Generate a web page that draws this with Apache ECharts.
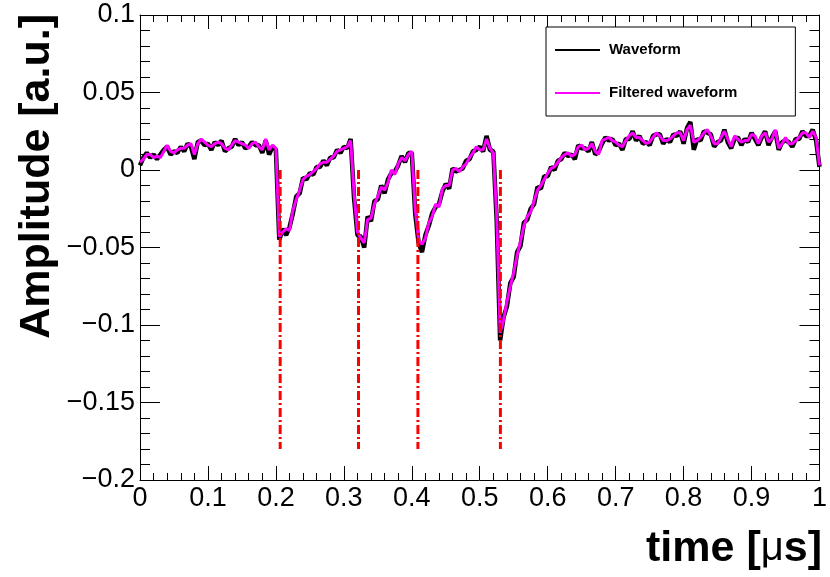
<!DOCTYPE html>
<html>
<head>
<meta charset="utf-8">
<script src="https://cdn.jsdelivr.net/npm/echarts@6/dist/echarts.min.js"></script>
<style>
html,body{margin:0;padding:0;background:#fff;}
#chart{width:830px;height:577px;}
</style>
</head>
<body>
<div id="chart"></div>
<script>
// sampling step of both waveforms (µs)
const dt = 0.005;

// Filtered waveform (magenta), t = 0 ... 1 µs in steps of dt
const filtered = [
  0.005, 0.007, 0.010, 0.010, 0.008, 0.009, 0.008, 0.012, 0.016, 0.012,
  0.011, 0.013, 0.014, 0.014, 0.016, 0.017, 0.010, 0.017, 0.020, 0.018,
  0.016, 0.015, 0.017, 0.018, 0.017, 0.014, 0.013, 0.016, 0.019, 0.018,
  0.017, 0.016, 0.014, 0.017, 0.018, 0.015, 0.013, 0.020, 0.013, 0.016,
  0.014,
  -0.043, -0.040, -0.038, -0.039, -0.026, -0.019, -0.013, -0.006, -0.004, -0.003,
  -0.001, 0.001, 0.004, 0.005, 0.005, 0.007, 0.009, 0.012, 0.013, 0.014,
  0.015, 0.019,
  -0.015, -0.040, -0.044, -0.047, -0.032, -0.031, -0.022, -0.017, -0.011, -0.013,
  -0.008, 0.000, -0.003, 0.004, 0.008, 0.006, 0.010, 0.012,
  -0.025, -0.045, -0.048, -0.044, -0.034, -0.030, -0.022, -0.024, -0.012, -0.010,
  -0.010, 0.000, 0.001, -0.001, 0.002, 0.004, 0.008, 0.011, 0.015, 0.013,
  0.013, 0.020, 0.014, 0.011,
  -0.030, -0.105, -0.097, -0.085, -0.075, -0.066, -0.055, -0.046, -0.036, -0.030,
  -0.027, -0.020, -0.013, -0.010, -0.006, -0.002, 0.001, 0.002, 0.005, 0.008,
  0.010, 0.011, 0.009, 0.010, 0.015, 0.016, 0.013, 0.014, 0.017, 0.012,
  0.010, 0.019, 0.020, 0.021, 0.019, 0.018, 0.016, 0.015, 0.019, 0.022,
  0.024, 0.021, 0.021, 0.019, 0.017, 0.018, 0.021, 0.024, 0.022, 0.019,
  0.019, 0.020, 0.022, 0.024, 0.024, 0.019, 0.026, 0.029, 0.018, 0.019,
  0.021, 0.024, 0.026, 0.022, 0.017, 0.017, 0.021, 0.025, 0.020, 0.015,
  0.022, 0.020, 0.018, 0.019, 0.019, 0.023, 0.022, 0.017, 0.022, 0.024,
  0.018, 0.020, 0.026, 0.014, 0.017, 0.021, 0.017, 0.017, 0.019, 0.021,
  0.024, 0.024, 0.021, 0.025, 0.021, 0.003
];

// Raw waveform (black), same time grid
const waveform = [
  0.003, 0.008, 0.011, 0.008, 0.010, 0.007, 0.010, 0.013, 0.015, 0.010,
  0.012, 0.011, 0.015, 0.012, 0.017, 0.015, 0.007, 0.018, 0.019, 0.016,
  0.017, 0.013, 0.018, 0.016, 0.019, 0.012, 0.014, 0.015, 0.020, 0.016,
  0.018, 0.014, 0.015, 0.018, 0.016, 0.016, 0.011, 0.019, 0.010, 0.015,
  0.013,
  -0.045, -0.038, -0.042, -0.037, -0.028, -0.017, -0.015, -0.005, -0.006, -0.002,
  -0.003, 0.002, 0.002, 0.006, 0.003, 0.008, 0.008, 0.013, 0.011, 0.015,
  0.014, 0.020,
  -0.018, -0.042, -0.043, -0.050, -0.030, -0.033, -0.020, -0.019, -0.010, -0.015,
  -0.006, -0.002, -0.001, 0.003, 0.009, 0.005, 0.011, 0.011,
  -0.028, -0.047, -0.053, -0.042, -0.036, -0.028, -0.024, -0.022, -0.014, -0.009,
  -0.012, 0.001, -0.001, 0.000, 0.001, 0.006, 0.007, 0.012, 0.013, 0.015,
  0.012, 0.022, 0.013, 0.012,
  -0.033, -0.110, -0.095, -0.088, -0.073, -0.069, -0.053, -0.049, -0.034, -0.032,
  -0.025, -0.022, -0.011, -0.012, -0.004, -0.004, 0.002, 0.000, 0.006, 0.007,
  0.011, 0.009, 0.010, 0.007, 0.016, 0.014, 0.014, 0.012, 0.018, 0.010,
  0.012, 0.017, 0.021, 0.019, 0.020, 0.016, 0.017, 0.013, 0.020, 0.020,
  0.025, 0.019, 0.022, 0.017, 0.018, 0.016, 0.022, 0.023, 0.023, 0.017,
  0.020, 0.018, 0.023, 0.022, 0.025, 0.017, 0.027, 0.031, 0.013, 0.020,
  0.019, 0.025, 0.024, 0.023, 0.015, 0.018, 0.019, 0.026, 0.018, 0.014,
  0.020, 0.021, 0.016, 0.020, 0.018, 0.024, 0.020, 0.016, 0.021, 0.025,
  0.016, 0.021, 0.025, 0.013, 0.018, 0.019, 0.018, 0.015, 0.020, 0.020,
  0.025, 0.022, 0.022, 0.026, 0.019, 0.002
];

// Detected pulse times (red dash-dot markers)
const markerTimes = [0.2063, 0.3216, 0.409, 0.5304];
const markerTop = 0;
const markerBottom = -0.18;

const seriesNames = ['Waveform', 'Filtered waveform'];
const xTitle = 'time [';
const xTitleUnit = 'μ';
const yTitle = 'Amplitude [a.u.]';

const FONT = '"Liberation Sans", Arial, Helvetica, sans-serif';

function fmt(v) {
  const s = String(parseFloat(v.toFixed(3)));
  return s.replace('-', '\u2212');
}

const toPairs = arr => arr.map((v, i) => [parseFloat((i * dt).toFixed(4)), v]);

function makeX(pos, showLabel) {
  return {
    type: 'value', min: 0, max: 1, interval: 0.1, position: pos,
    axisLine: { show: true, onZero: false, lineStyle: { color: '#000', width: 1 } },
    axisTick: { show: true, inside: true, length: 14, lineStyle: { color: '#000', width: 1 } },
    minorTick: { show: true, splitNumber: 5, length: 7, lineStyle: { color: '#000', width: 1 } },
    splitLine: { show: false },
    axisLabel: { show: showLabel, color: '#000', fontSize: 27, fontFamily: FONT, margin: 5, formatter: fmt }
  };
}
function makeY(pos, showLabel) {
  return {
    type: 'value', min: -0.2, max: 0.1, interval: 0.05, position: pos,
    axisLine: { show: true, onZero: false, lineStyle: { color: '#000', width: 1 } },
    axisTick: { show: true, inside: true, length: 20, lineStyle: { color: '#000', width: 1 } },
    minorTick: { show: true, splitNumber: 5, length: 10, lineStyle: { color: '#000', width: 1 } },
    splitLine: { show: false },
    axisLabel: { show: showLabel, color: '#000', fontSize: 27, fontFamily: FONT, margin: 5, formatter: fmt }
  };
}

const markerSeries = markerTimes.map(t => ({
  type: 'line', name: 'marker', data: [[t, markerTop], [t, markerBottom]],
  symbol: 'none', silent: true, z: 5,
  lineStyle: { color: '#ff0000', width: 3, type: [9, 3, 2, 3] }
}));

const chart = echarts.init(document.getElementById('chart'), null, { renderer: 'canvas' });
chart.setOption({
  animation: false,
  backgroundColor: '#fff',
  grid: { left: 140, top: 15, width: 682, height: 465, containLabel: false },
  xAxis: [makeX('bottom', true), makeX('top', false)],
  yAxis: [makeY('left', true), makeY('right', false)],
  legend: {
    data: seriesNames, orient: 'vertical', left: 546, top: 27,
    itemWidth: 45, itemHeight: 2, icon: 'rect', itemGap: 27,
    padding: [15, 58, 15, 9], borderColor: '#000', borderWidth: 1,
    backgroundColor: '#fff', selectedMode: false,
    textStyle: { fontSize: 15, fontWeight: 'bold', fontFamily: FONT, color: '#000', lineHeight: 16, padding: [0, 0, 0, 4] }
  },
  graphic: [
    {
      type: 'text', x: 37, y: 14, rotation: Math.PI / 2, z: 10,
      style: { text: yTitle, fill: '#000', font: 'bold 43px ' + FONT, textAlign: 'right', textVerticalAlign: 'middle' }
    },
    {
      type: 'text', x: 822, y: 549, z: 10,
      style: {
        text: '{b|' + xTitle + '}{m|' + xTitleUnit + '}{b|s]}',
        textAlign: 'right', textVerticalAlign: 'middle',
        rich: {
          b: { fontSize: 43, fontWeight: 'bold', fontFamily: FONT, fill: '#000', color: '#000' },
          m: { fontSize: 40, fontWeight: 'normal', fontFamily: FONT, fill: '#000', color: '#000' }
        }
      }
    }
  ],
  series: [
    {
      type: 'line', name: seriesNames[0], data: toPairs(waveform), symbol: 'none', z: 2,
      lineStyle: { color: '#000', width: 4.5 }, itemStyle: { color: '#000' }
    },
    {
      type: 'line', name: seriesNames[1], data: toPairs(filtered), symbol: 'none', z: 3,
      lineStyle: { color: '#ff00ff', width: 3 }, itemStyle: { color: '#ff00ff' }
    }
  ].concat(markerSeries)
});
</script>
</body>
</html>
